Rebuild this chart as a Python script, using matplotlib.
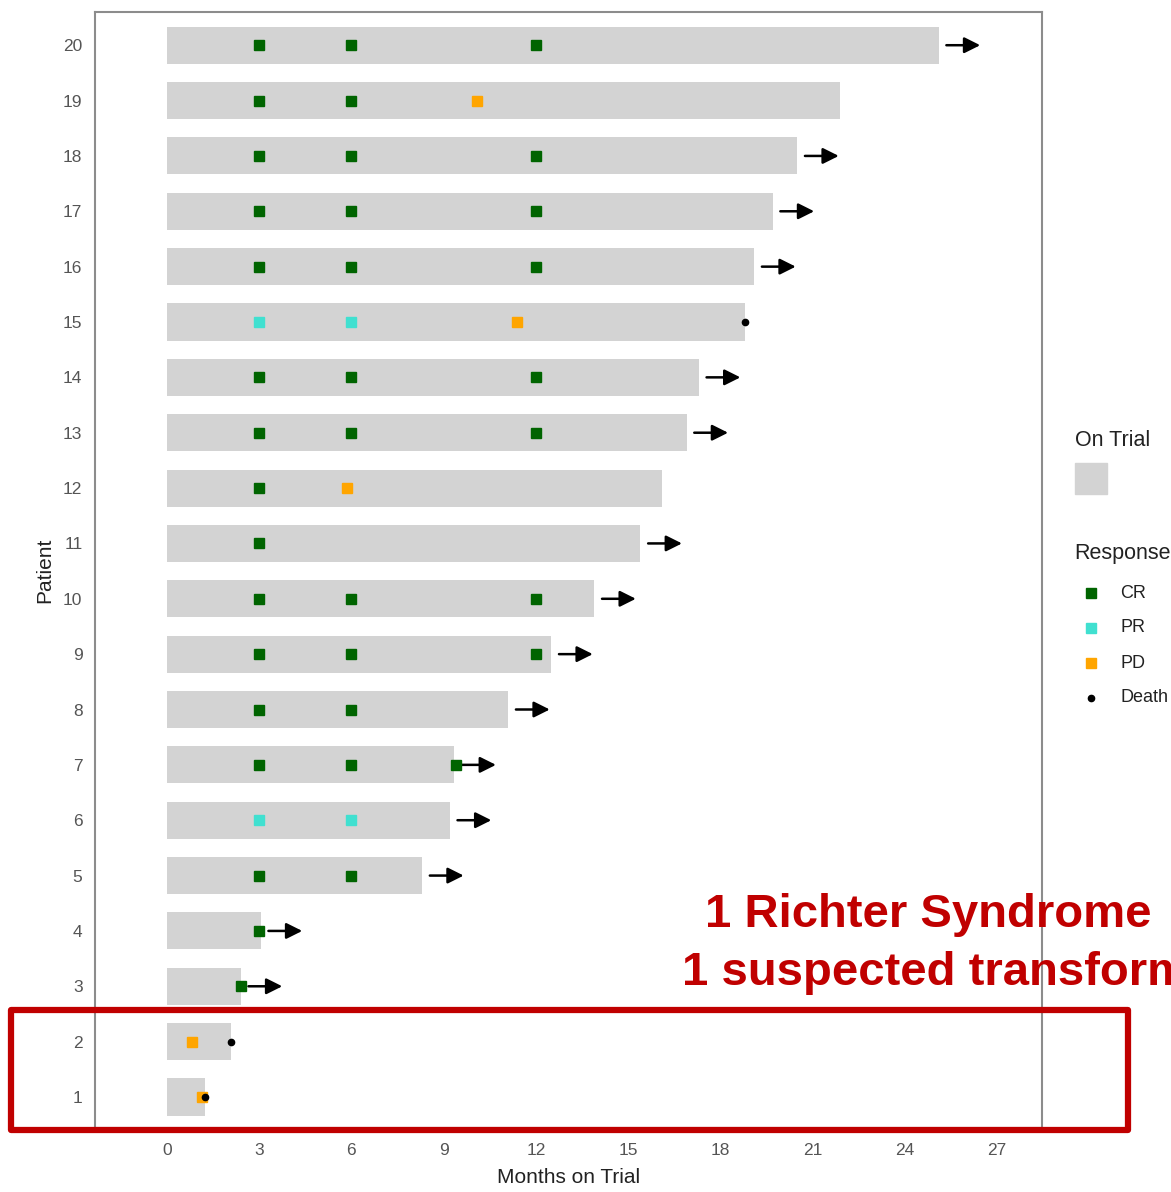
import matplotlib.pyplot as plt
from matplotlib.patches import Rectangle
from matplotlib.lines import Line2D

plt.rcParams['font.family'] = ['Liberation Sans', 'DejaVu Sans']

# months on trial for patients 1..20
patients = list(range(1, 21))
months = [1.25, 2.08, 2.4, 3.05, 8.3, 9.2, 9.35, 11.1, 12.5, 13.9,
          15.4, 16.1, 16.9, 17.3, 18.8, 19.1, 19.7, 20.5, 21.9, 25.1]
ongoing = [3, 4, 5, 6, 7, 8, 9, 10, 11, 13, 14, 16, 17, 18, 20]

cr_patient = [20, 20, 20, 19, 19, 18, 18, 18, 17, 17, 17, 16, 16, 16,
              14, 14, 14, 13, 13, 13, 12, 11, 10, 10, 10, 9, 9, 9,
              8, 8, 7, 7, 7, 5, 5, 4, 3]
cr_month = [3, 6, 12, 3, 6, 3, 6, 12, 3, 6, 12, 3, 6, 12,
            3, 6, 12, 3, 6, 12, 3, 3, 3, 6, 12, 3, 6, 12,
            3, 6, 3, 6, 9.4, 3, 6, 3.0, 2.4]
pr_patient = [15, 15, 6, 6]
pr_month = [3, 6, 3, 6]
pd_patient = [19, 15, 12, 2, 1]
pd_month = [10.1, 11.4, 5.85, 0.8, 1.15]
death_patient = [15, 2, 1]
death_month = [18.8, 2.08, 1.25]

W, H = 1171, 1192
fig = plt.figure(figsize=(W / 100, H / 100), dpi=100)
ax = fig.add_axes([95 / W, 1 - 1128 / H, (1042 - 95) / W, (1128 - 12) / H])

ax.barh(patients, months, height=0.67, color='#D3D3D3', zorder=1)

for p in ongoing:
    end = months[p - 1]
    ax.annotate('', xy=(end + 1.35, p), xytext=(end + 0.25, p),
                arrowprops=dict(arrowstyle='-|>', color='black', lw=1.8,
                                mutation_scale=24, shrinkA=0, shrinkB=0))

ax.plot(cr_month, cr_patient, 's', color='#006400', ms=7, ls='none', zorder=3)
ax.plot(pr_month, pr_patient, 's', color='#40E0D0', ms=7, ls='none', zorder=3)
ax.plot(pd_month, pd_patient, 's', color='#FFA500', ms=7, ls='none', zorder=3)
ax.plot(death_month, death_patient, 'o', color='black', ms=4.5, ls='none', zorder=4)

ax.set_xlim(-2.34, 28.46)
ax.set_ylim(0.44, 20.6)
ax.set_xticks(range(0, 28, 3))
ax.set_yticks(patients)
ax.tick_params(axis='x', length=3, width=1, color='#888888', labelsize=12.5,
               labelcolor='#555555', pad=8)
ax.tick_params(axis='y', length=0, labelsize=12.5, labelcolor='#555555', pad=9)
for s in ax.spines.values():
    s.set_color('#8C8C8C')
    s.set_linewidth(1.5)
ax.set_xlabel('Months on Trial', fontsize=15, color='#222222', labelpad=7)
ax.set_ylabel('Patient', fontsize=15, color='#222222', labelpad=6)

# legend drawn by hand on the right edge
fig.text(1075 / W, 1 - 441 / H, 'On Trial', fontsize=15.5, color='#222222', va='center')
fig.add_artist(Rectangle((1075 / W, 1 - 494 / H), 32 / W, 31 / H,
                         transform=fig.transFigure, color='#D3D3D3'))
fig.text(1074 / W, 1 - 553 / H, 'Response', fontsize=15.5, color='#222222', va='center')
leg_items = [('CR', 's', '#006400', 7), ('PR', 's', '#40E0D0', 7),
             ('PD', 's', '#FFA500', 7), ('Death', 'o', 'black', 4.5)]
for i, (lab, mk, col, sz) in enumerate(leg_items):
    yy = 1 - (593 + 35 * i) / H
    fig.add_artist(Line2D([1091 / W], [yy], marker=mk, color=col, ms=sz,
                          ls='none', transform=fig.transFigure))
    fig.text(1120 / W, yy, lab, fontsize=13, color='#222222', va='center')

# annotation
fig.text(705 / W, 1 - 927 / H, '1 Richter Syndrome', fontsize=34, fontweight='bold',
         color='#C00000', va='baseline')
fig.text(682 / W, 1 - 985 / H, '1 suspected transformation', fontsize=34,
         fontweight='bold', color='#C00000', va='baseline')
fig.add_artist(Rectangle((11 / W, 1 - 1130 / H), (1128 - 11) / W, (1130 - 1010) / H,
                         transform=fig.transFigure, fill=False, edgecolor='#C00000',
                         lw=4.5, joinstyle='round'))

fig.savefig('out.png', dpi=100)
